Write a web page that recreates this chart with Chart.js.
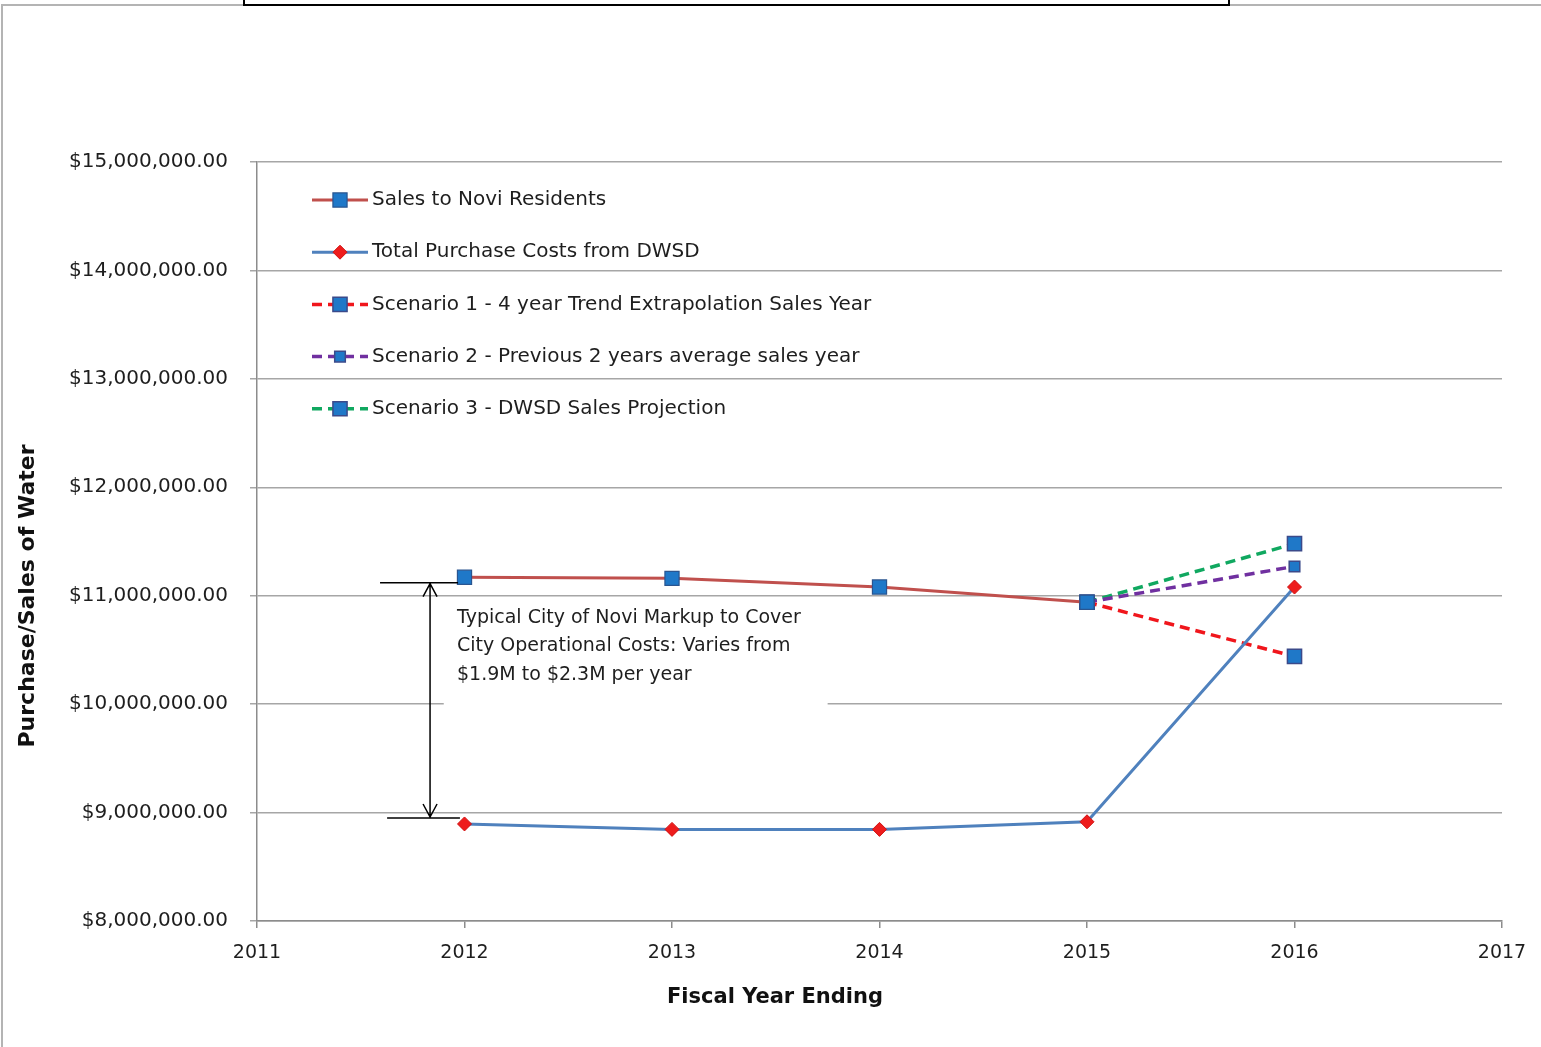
<!DOCTYPE html>
<html>
<head>
<meta charset="utf-8">
<script src="https://cdn.jsdelivr.net/npm/chart.js@4.4.0/dist/chart.umd.min.js"></script>
<style>
  html, body { margin: 0; padding: 0; background: #fff; }
  #wrap { position: relative; width: 1541px; height: 1047px; overflow: hidden; }
  #frame { position: absolute; left: 1px; top: 4px; width: 1600px; height: 1100px;
           border-left: 2px solid #b4b4b4; border-top: 2px solid #b4b4b4; }
  #topbox { position: absolute; left: 243px; top: -10px; width: 983px; height: 12px; border: 2px solid #000; background: #fff; }
  canvas { position: absolute; left: 0; top: 0; }
</style>
</head>
<body>
<div id="wrap">
  <div id="frame"></div>
  <div id="topbox"></div>
  <canvas id="myChart" width="1541" height="1047"></canvas>
</div>
<script>
const FONT = '"DejaVu Sans", "Open Sans", sans-serif';

// data
const years = [2012, 2013, 2014, 2015, 2016];
const salesValues = [11170000, 11160000, 11080000, 10940000];
const purchaseValues = [8895000, 8845000, 8845000, 8915000, 11080000];
const scenarioYears = [2015, 2016];
const scenario1Values = [10940000, 10440000];
const scenario2Values = [10940000, 11270000];
const scenario3Values = [10940000, 11480000];

const yTicks = [8000000, 9000000, 10000000, 11000000, 12000000, 13000000, 14000000, 15000000];
const xTicks = [2011, 2012, 2013, 2014, 2015, 2016, 2017];

const legendLabels = [
  'Sales to Novi Residents',
  'Total Purchase Costs from DWSD',
  'Scenario 1 - 4 year Trend Extrapolation Sales Year',
  'Scenario 2 - Previous 2 years average sales year',
  'Scenario 3 - DWSD Sales Projection'
];
const noteLines = [
  'Typical City of Novi Markup to Cover',
  'City Operational Costs: Varies from',
  '$1.9M to $2.3M per year'
];
const yTitle = 'Purchase/Sales of Water';
const xTitle = 'Fiscal Year Ending';

function pts(xs, ys) {
  return ys.map((v, i) => ({x: xs[i], y: v}));
}

const SQ_FILL = '#1f78c8';
const SQ_EDGE = '#3b4a8a';

const datasets = [
  {
    label: legendLabels[0],
    data: pts(years, salesValues),
    borderColor: '#c0504d', borderWidth: 3,
    pointStyle: 'rect', pointRadius: 10, pointBackgroundColor: SQ_FILL,
    pointBorderColor: '#2a5590', pointBorderWidth: 1.2
  },
  {
    label: legendLabels[1],
    data: pts(years, purchaseValues),
    borderColor: '#4f81bd', borderWidth: 3,
    pointStyle: 'rectRot', pointRadius: 7, pointBackgroundColor: '#ee1c1c',
    pointBorderColor: '#d01010', pointBorderWidth: 1
  },
  {
    label: legendLabels[2],
    data: pts(scenarioYears, scenario1Values),
    borderColor: '#f0161c', borderWidth: 3.5, borderDash: [10, 6],
    pointStyle: 'rect', pointRadius: 10, pointBackgroundColor: SQ_FILL,
    pointBorderColor: SQ_EDGE, pointBorderWidth: 1.5
  },
  {
    label: legendLabels[3],
    data: pts(scenarioYears, scenario2Values),
    borderColor: '#7030a0', borderWidth: 3.5, borderDash: [10, 6],
    pointStyle: 'rect', pointRadius: 7.5, pointBackgroundColor: SQ_FILL,
    pointBorderColor: SQ_EDGE, pointBorderWidth: 1.5
  },
  {
    label: legendLabels[4],
    data: pts(scenarioYears, scenario3Values),
    borderColor: '#10a860', borderWidth: 3.5, borderDash: [10, 6],
    pointStyle: 'rect', pointRadius: 10, pointBackgroundColor: SQ_FILL,
    pointBorderColor: SQ_EDGE, pointBorderWidth: 1.5
  }
];

// legend inside the plot, annotation arrow + note, axis titles
const extras = {
  id: 'extras',
  beforeDatasetsDraw(chart) {
    const ctx = chart.ctx, xs = chart.scales.x, ys = chart.scales.y;
    // white box behind the note hides part of the gridline
    ctx.save();
    ctx.fillStyle = '#fff';
    const l = xs.getPixelForValue(2011.9), r = xs.getPixelForValue(2013.75);
    const t = ys.getPixelForValue(10900000), b = ys.getPixelForValue(9980000);
    ctx.fillRect(l, t, r - l, b - t);
    ctx.restore();
  },
  afterDraw(chart) {
    const ctx = chart.ctx, xs = chart.scales.x, ys = chart.scales.y;
    ctx.save();

    // legend
    const lx0 = 312, lx1 = 368, ly0 = 200, lstep = 52.2;
    chart.data.datasets.forEach((ds, i) => {
      const y = ly0 + i * lstep;
      ctx.save();
      ctx.strokeStyle = ds.borderColor;
      ctx.lineWidth = ds.borderWidth;
      ctx.setLineDash(ds.borderDash || []);
      ctx.beginPath();
      ctx.moveTo(lx0, y);
      ctx.lineTo(lx1, y);
      ctx.stroke();
      ctx.setLineDash([]);
      ctx.fillStyle = ds.pointBackgroundColor;
      ctx.strokeStyle = ds.pointBorderColor;
      ctx.lineWidth = ds.pointBorderWidth;
      Chart.helpers.drawPoint(ctx, {
        pointStyle: ds.pointStyle, radius: ds.pointRadius, rotation: 0,
        borderWidth: ds.pointBorderWidth
      }, (lx0 + lx1) / 2, y);
      ctx.restore();
      ctx.fillStyle = '#1e1e1e';
      ctx.font = '20px ' + FONT;
      ctx.textBaseline = 'middle';
      ctx.textAlign = 'left';
      ctx.fillText(ds.label, 372, y);
    });

    // markup arrow
    const ax = xs.getPixelForValue(2011.834);
    const yTop = ys.getPixelForValue(11120000);
    const yBot = ys.getPixelForValue(8950000);
    ctx.strokeStyle = '#000';
    ctx.lineWidth = 1.5;
    ctx.beginPath();
    ctx.moveTo(xs.getPixelForValue(2011.593), yTop);
    ctx.lineTo(xs.getPixelForValue(2011.969), yTop);
    ctx.moveTo(xs.getPixelForValue(2011.627), yBot);
    ctx.lineTo(xs.getPixelForValue(2011.978), yBot);
    ctx.moveTo(ax, yTop + 1);
    ctx.lineTo(ax, yBot - 1);
    ctx.moveTo(ax - 7, yTop + 14);
    ctx.lineTo(ax, yTop + 1);
    ctx.lineTo(ax + 7, yTop + 14);
    ctx.moveTo(ax - 7, yBot - 14);
    ctx.lineTo(ax, yBot - 1);
    ctx.lineTo(ax + 7, yBot - 14);
    ctx.stroke();

    // note text
    ctx.fillStyle = '#1e1e1e';
    ctx.font = '19px ' + FONT;
    ctx.textAlign = 'left';
    ctx.textBaseline = 'middle';
    const nx = xs.getPixelForValue(2011.964);
    noteLines.forEach((s, i) => ctx.fillText(s, nx, 618 + i * 28.5));

    // x axis title
    ctx.font = 'bold 21px ' + FONT;
    ctx.textAlign = 'center';
    ctx.fillStyle = '#111';
    ctx.fillText(xTitle, 775, 998);

    // y axis title
    ctx.translate(28, 596);
    ctx.rotate(-Math.PI / 2);
    ctx.font = 'bold 22px ' + FONT;
    ctx.textAlign = 'center';
    ctx.fillText(yTitle, 0, 0);
    ctx.restore();
  }
};

const config = {
  type: 'line',
  data: {datasets: datasets},
  options: {
    responsive: false,
    animation: false,
    layout: {padding: {left: 0, top: 162, right: 39, bottom: 66}},
    scales: {
      x: {
        type: 'linear',
        min: 2011, max: 2017,
        afterBuildTicks(s) { s.ticks = xTicks.map(v => ({value: v})); },
        afterFit(s) { s.height = 60; },
        grid: {drawOnChartArea: false, drawTicks: true, tickLength: 7, color: '#8c8c8c', lineWidth: 1.5},
        border: {display: true, color: '#8c8c8c', width: 1.5},
        ticks: {
          callback: v => String(v),
          color: '#1e1e1e', padding: 14,
          font: {family: FONT, size: 19}
        }
      },
      y: {
        min: 8000000, max: 15000000,
        afterBuildTicks(s) { s.ticks = yTicks.map(v => ({value: v})); },
        afterFit(s) { s.width = 257; },
        grid: {color: '#a6a6a6', lineWidth: 1.5, tickLength: 7},
        border: {display: true, color: '#8c8c8c', width: 1.5},
        ticks: {
          callback: v => '$' + v.toLocaleString('en-US', {minimumFractionDigits: 2, maximumFractionDigits: 2}),
          color: '#1e1e1e', padding: 22,
          font: {family: FONT, size: 20}
        }
      }
    },
    plugins: {
      legend: {display: false},
      tooltip: {enabled: false},
      title: {display: false}
    }
  },
  plugins: [extras]
};

const ctx = document.getElementById('myChart').getContext('2d');
const myChart = new Chart(ctx, config);
</script>
</body>
</html>
